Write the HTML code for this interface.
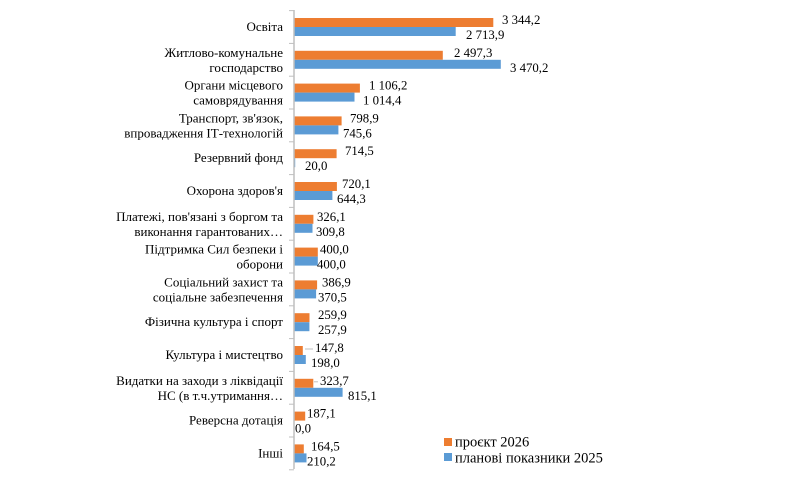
<!DOCTYPE html>
<html><head><meta charset="utf-8"><style>
html,body{margin:0;padding:0;background:#fff;}
svg{display:block;font-family:"Liberation Serif","DejaVu Serif",serif;}
.c{font-size:13px;fill:#000;text-anchor:end;}
.v{font-size:12.8px;fill:#000;}
.o{fill:#ED7D31;}
.b{fill:#5B9BD5;}
</style></head><body>
<svg width="794" height="489" viewBox="0 0 794 489" xmlns="http://www.w3.org/2000/svg">
<g stroke="#bfbfbf">
<line x1="289" y1="10.6" x2="294" y2="10.6"/><line x1="289" y1="43.4" x2="294" y2="43.4"/><line x1="289" y1="76.2" x2="294" y2="76.2"/><line x1="289" y1="109" x2="294" y2="109"/><line x1="289" y1="141.8" x2="294" y2="141.8"/><line x1="289" y1="174.6" x2="294" y2="174.6"/><line x1="289" y1="207.4" x2="294" y2="207.4"/><line x1="289" y1="240.2" x2="294" y2="240.2"/><line x1="289" y1="273" x2="294" y2="273"/><line x1="289" y1="305.8" x2="294" y2="305.8"/><line x1="289" y1="338.6" x2="294" y2="338.6"/><line x1="289" y1="371.4" x2="294" y2="371.4"/><line x1="289" y1="404.2" x2="294" y2="404.2"/><line x1="289" y1="437" x2="294" y2="437"/><line x1="289" y1="469.8" x2="294" y2="469.8"/>
<line x1="305" y1="349" x2="313" y2="349"/><line x1="314" y1="381.8" x2="318" y2="381.8"/>
</g>

<rect class="o" x="294" y="18" width="199.3" height="9"/><rect class="b" x="294" y="27" width="161.7" height="9"/>
<text class="v" x="502" y="24">3 344,2</text><text class="v" x="466" y="39">2 713,9</text>
<text class="c" x="283" y="31">Освіта</text>

<rect class="o" x="294" y="50.8" width="148.8" height="9"/><rect class="b" x="294" y="59.8" width="206.8" height="9"/>
<text class="v" x="454" y="56.8">2 497,3</text><text class="v" x="510" y="71.8">3 470,2</text>
<text class="c" x="283" y="56.8">Житлово-комунальне</text><text class="c" x="283" y="71.8">господарство</text>

<rect class="o" x="294" y="83.6" width="65.9" height="9"/><rect class="b" x="294" y="92.6" width="60.5" height="9"/>
<text class="v" x="369" y="89.6">1 106,2</text><text class="v" x="363" y="104.6">1 014,4</text>
<text class="c" x="283" y="89.6">Органи місцевого</text><text class="c" x="283" y="104.6">самоврядування</text>

<rect class="o" x="294" y="116.4" width="47.6" height="9"/><rect class="b" x="294" y="125.4" width="44.4" height="9"/>
<text class="v" x="350" y="122.4">798,9</text><text class="v" x="343" y="137.4">745,6</text>
<text class="c" x="283" y="122.4">Транспорт, зв'язок,</text><text class="c" x="283" y="137.4">впровадження ІТ-технологій</text>

<rect class="o" x="294" y="149.2" width="42.6" height="9"/><rect class="b" x="294" y="158.2" width="1.2" height="9"/>
<text class="v" x="345" y="155.2">714,5</text><text class="v" x="305" y="170.2">20,0</text>
<text class="c" x="283" y="162.2">Резервний фонд</text>

<rect class="o" x="294" y="182" width="42.9" height="9"/><rect class="b" x="294" y="191" width="38.4" height="9"/>
<text class="v" x="342" y="188">720,1</text><text class="v" x="337" y="203">644,3</text>
<text class="c" x="283" y="195">Охорона здоров'я</text>

<rect class="o" x="294" y="214.8" width="19.4" height="9"/><rect class="b" x="294" y="223.8" width="18.5" height="9"/>
<text class="v" x="317" y="220.8">326,1</text><text class="v" x="316" y="235.8">309,8</text>
<text class="c" x="283" y="220.8">Платежі,  пов'язані з боргом та</text><text class="c" x="283" y="235.8">виконання гарантованих…</text>

<rect class="o" x="294" y="247.6" width="23.8" height="9"/><rect class="b" x="294" y="256.6" width="23.8" height="9"/>
<text class="v" x="320" y="253.6">400,0</text><text class="v" x="317" y="268.6">400,0</text>
<text class="c" x="283" y="253.6">Підтримка Сил безпеки і</text><text class="c" x="283" y="268.6">оборони</text>

<rect class="o" x="294" y="280.4" width="23.1" height="9"/><rect class="b" x="294" y="289.4" width="22.1" height="9"/>
<text class="v" x="322" y="286.4">386,9</text><text class="v" x="318" y="301.4">370,5</text>
<text class="c" x="283" y="286.4">Соціальний захист та</text><text class="c" x="283" y="301.4">соціальне забезпечення</text>

<rect class="o" x="294" y="313.2" width="15.5" height="9"/><rect class="b" x="294" y="322.2" width="15.4" height="9"/>
<text class="v" x="318" y="319.2">259,9</text><text class="v" x="318" y="334.2">257,9</text>
<text class="c" x="283" y="326.2">Фізична культура і спорт</text>

<rect class="o" x="294" y="346" width="8.8" height="9"/><rect class="b" x="294" y="355" width="11.8" height="9"/>
<text class="v" x="315" y="352">147,8</text><text class="v" x="311" y="367">198,0</text>
<text class="c" x="283" y="359">Культура і мистецтво</text>

<rect class="o" x="294" y="378.8" width="19.3" height="9"/><rect class="b" x="294" y="387.8" width="48.6" height="9"/>
<text class="v" x="320" y="384.8">323,7</text><text class="v" x="348" y="399.8">815,1</text>
<text class="c" x="283" y="384.8">Видатки на заходи з ліквідації</text><text class="c" x="283" y="399.8">НС (в т.ч.утримання…</text>

<rect class="o" x="294" y="411.6" width="11.2" height="9"/>
<text class="v" x="307" y="417.6">187,1</text><text class="v" x="295" y="432.6">0,0</text>
<text class="c" x="283" y="424.6">Реверсна дотація</text>

<rect class="o" x="294" y="444.4" width="9.8" height="9"/><rect class="b" x="294" y="453.4" width="12.5" height="9"/>
<text class="v" x="311" y="450.4">164,5</text><text class="v" x="307" y="465.4">210,2</text>
<text class="c" x="283" y="457.4">Інші</text>

<line x1="294" y1="10" x2="294" y2="469" stroke="#bfbfbf" stroke-width="1.5"/>

<rect class="o" x="444" y="438" width="8" height="8"/><text class="v" x="455" y="446.5" style="font-size:14.5px">проєкт 2026</text>
<rect class="b" x="444" y="453" width="8" height="8"/><text class="v" x="455" y="462.5" style="font-size:14.5px">планові показники 2025</text>
</svg>
</body></html>
